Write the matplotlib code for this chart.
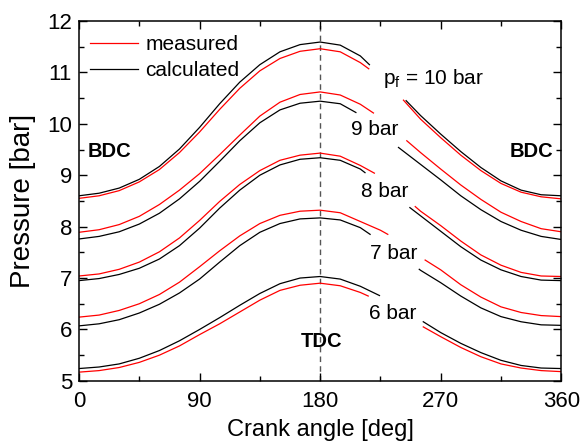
import numpy as np
import matplotlib
matplotlib.use('Agg')
import matplotlib.pyplot as plt
from matplotlib.ticker import MultipleLocator

nan = np.nan

# crank angle grid [deg]
theta = [0, 15, 30, 45, 60, 75, 90, 105, 120, 135, 150, 165, 180,
         195, 210, 225, 240, 255, 270, 285, 300, 315, 330, 345, 360]

# calculated pressures [bar] (black), nan where the label gap is
calc_10 = [8.60, 8.65, 8.75, 8.92, 9.17, 9.51, 9.93, 10.39, 10.81, 11.15, 11.40, 11.54, 11.59,
           11.53, 11.32, nan, nan, 10.16, 9.80, 9.46, 9.15, 8.89, 8.71, 8.62, 8.60]
calc_9 = [7.76, 7.81, 7.90, 8.05, 8.26, 8.54, 8.88, 9.27, 9.67, 10.02, 10.27, 10.40, 10.44,
          10.39, nan, nan, nan, 9.21, 8.91, 8.60, 8.33, 8.10, 7.93, 7.81, 7.75]
calc_8 = [6.95, 6.99, 7.07, 7.19, 7.37, 7.63, 7.97, 8.36, 8.71, 9.00, 9.20, 9.31, 9.34,
          9.29, 9.12, nan, nan, 8.21, 7.91, 7.61, 7.35, 7.16, 7.03, 6.96, 6.95]
calc_7 = [6.07, 6.11, 6.19, 6.32, 6.49, 6.71, 6.98, 7.31, 7.63, 7.89, 8.06, 8.15, 8.17,
          8.13, 7.98, nan, nan, 7.15, 6.91, 6.65, 6.42, 6.25, 6.15, 6.09, 6.08]
calc_6 = [5.24, 5.27, 5.33, 5.44, 5.59, 5.78, 6.00, 6.23, 6.47, 6.70, 6.89, 7.00, 7.03,
          6.98, 6.84, nan, nan, nan, 5.94, 5.73, 5.55, 5.40, 5.30, 5.25, 5.24]

# measured pressures [bar] (red)
meas_10 = [8.55, 8.60, 8.70, 8.87, 9.11, 9.44, 9.84, 10.28, 10.69, 11.03, 11.27, 11.41, 11.46,
           11.40, 11.19, nan, nan, 10.09, 9.73, 9.39, 9.09, 8.84, 8.67, 8.58, 8.54]
meas_9 = [7.89, 7.94, 8.04, 8.20, 8.43, 8.71, 9.03, 9.40, 9.78, 10.15, 10.42, 10.57, 10.62,
          10.56, 10.38, nan, nan, 9.44, 9.12, 8.81, 8.53, 8.28, 8.10, 7.96, 7.90]
meas_8 = [7.04, 7.08, 7.17, 7.31, 7.51, 7.78, 8.12, 8.49, 8.82, 9.09, 9.29, 9.39, 9.43,
          9.37, 9.19, nan, nan, 8.30, 8.02, 7.72, 7.45, 7.25, 7.11, 7.04, 7.03]
meas_7 = [6.24, 6.28, 6.37, 6.50, 6.68, 6.92, 7.22, 7.53, 7.82, 8.06, 8.22, 8.30, 8.32,
          8.27, 8.10, 7.93, nan, nan, 7.16, 6.87, 6.63, 6.44, 6.33, 6.27, 6.25]
meas_6 = [5.17, 5.20, 5.26, 5.36, 5.50, 5.68, 5.90, 6.11, 6.34, 6.57, 6.76, 6.86, 6.90,
          6.85, 6.72, nan, nan, nan, 5.86, 5.65, 5.47, 5.33, 5.25, 5.20, 5.18]

# where each curve stops and starts again around its label: (angle, p, angle, p)
calc_gap_10 = [216.8, 11.15, 244.2, 10.45]
calc_gap_9 = [206.7, 10.22, 238.5, 9.54]
calc_gap_8 = [213.5, 9.05, 247.0, 8.37]
calc_gap_7 = [217.3, 7.85, 254.0, 7.17]
calc_gap_6 = [224.3, 6.66, 257.0, 6.15]
meas_gap_10 = [216.3, 11.07, 242.2, 10.46]
meas_gap_9 = [219.8, 10.21, 244.7, 9.67]
meas_gap_8 = [220.5, 9.04, 251.0, 8.39]
meas_gap_7 = [230.5, 7.85, 258.4, 7.35]
meas_gap_6 = [215.9, 6.65, 257.0, 6.05]

labels = [r'p$_\mathregular{f}$ = 10 bar', '9 bar', '8 bar', '7 bar', '6 bar']
label_x = [264.5, 221.0, 228.5, 235.0, 234.0]
label_y = [10.89, 9.89, 8.68, 7.48, 6.31]


def split(vals, gap):
    th = np.array(theta, float)
    v = np.array(vals, float)
    a0, p0, a1, p1 = gap
    m0 = (th < a0) & ~np.isnan(v)
    m1 = (th > a1) & ~np.isnan(v)
    left = (np.r_[th[m0], a0], np.r_[v[m0], p0])
    right = (np.r_[a1, th[m1]], np.r_[p1, v[m1]])
    return left, right


plt.rcParams['font.family'] = ['Liberation Sans', 'DejaVu Sans']
plt.rcParams['mathtext.default'] = 'regular'

fig = plt.figure(figsize=(5.81, 4.46), dpi=100)
ax = fig.add_axes([0.136, 0.146, 0.830, 0.807])

ax.axvline(180, color='#555555', lw=1.0, ls=(0, (4, 3)), zorder=1)

meas = [meas_10, meas_9, meas_8, meas_7, meas_6]
calc = [calc_10, calc_9, calc_8, calc_7, calc_6]
meas_gap = [meas_gap_10, meas_gap_9, meas_gap_8, meas_gap_7, meas_gap_6]
calc_gap = [calc_gap_10, calc_gap_9, calc_gap_8, calc_gap_7, calc_gap_6]

for i in range(5):
    for k, (x, y) in enumerate(split(meas[i], meas_gap[i])):
        ax.plot(x, y, color='red', lw=0.9, solid_joinstyle='round',
                label='measured' if (i == 0 and k == 0) else None)
    for k, (x, y) in enumerate(split(calc[i], calc_gap[i])):
        ax.plot(x, y, color='black', lw=0.9, solid_joinstyle='round',
                label='calculated' if (i == 0 and k == 0) else None)
    ax.text(label_x[i], label_y[i], labels[i], fontsize=15, ha='center', va='center')

ax.text(22.4, 9.46, 'BDC', fontsize=14.5, fontweight='bold', ha='center', va='center')
ax.text(338, 9.46, 'BDC', fontsize=14.5, fontweight='bold', ha='center', va='center')
ax.text(180.8, 5.76, 'TDC', fontsize=14.5, fontweight='bold', ha='center', va='center')

ax.set_xlim(0, 360)
ax.set_ylim(5, 12)
ax.xaxis.set_major_locator(MultipleLocator(90))
ax.xaxis.set_minor_locator(MultipleLocator(45))
ax.yaxis.set_major_locator(MultipleLocator(1))
ax.yaxis.set_minor_locator(MultipleLocator(0.5))
ax.tick_params(which='both', direction='in', top=True, right=True, labelsize=16, width=1.0)
ax.tick_params(which='major', length=6)
ax.tick_params(which='minor', length=3.5)
ax.tick_params(axis='x', which='major', pad=7)
ax.tick_params(axis='y', which='major', pad=5)
for s in ax.spines.values():
    s.set_linewidth(1.1)

ax.set_xlabel('Crank angle [deg]', fontsize=17, labelpad=5)
ax.set_ylabel('Pressure [bar]', fontsize=20, labelpad=8)

ax.legend(loc='upper left', bbox_to_anchor=(0.023, 0.96), frameon=False, fontsize=15,
          handlelength=2.3, handletextpad=0.35, labelspacing=0.33, borderpad=0, borderaxespad=0)

fig.savefig('out.png', dpi=100)
